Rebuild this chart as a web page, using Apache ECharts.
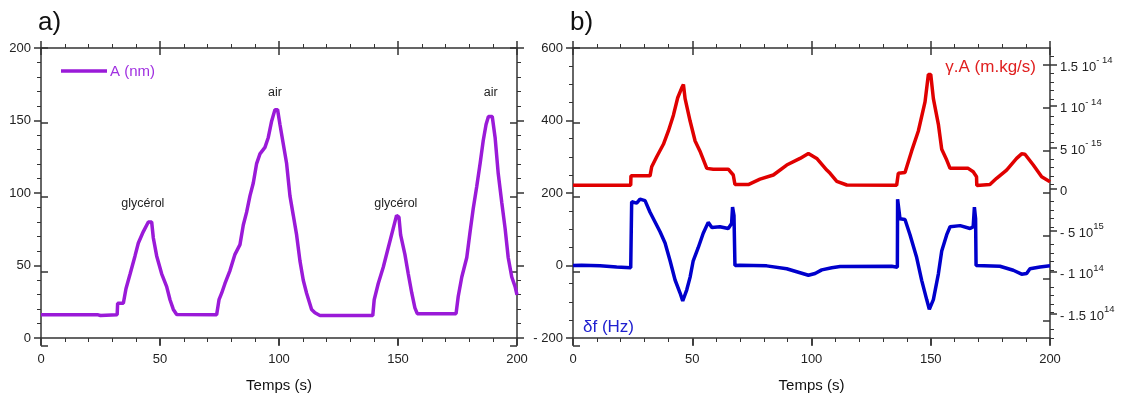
<!DOCTYPE html>
<html><head><meta charset="utf-8">
<script src="https://cdn.jsdelivr.net/npm/echarts@6/dist/echarts.min.js"></script>
<style>html,body{margin:0;padding:0;background:#fff}#c{width:1121px;height:398px}</style>
</head><body><div id="c"></div>
<script>
// ---------- data ----------
// a) amplitude A (nm) vs time (s)
const timeA = [0,24,25,32,32.2,34.6,35.7,37.4,39.5,40.9,43,45.1,46.5,47.2,48.6,50.7,52.8,54.2,55.6,57,73.8,74.8,75.9,77.3,79.4,81.5,83.6,85,86.4,87.8,89.2,90.6,92,94.1,95.5,96.9,98.3,99.4,100.4,101.8,103.2,104.6,106,107.4,108.8,110.2,111.6,113.7,115.1,117.2,139.4,140,141.7,143.8,145.9,148,149.4,150.4,151.1,152.9,154.3,155.8,157.1,158.1,174.4,175.3,176.8,178.9,180.3,181.6,183.1,184.5,185.8,187,188,189.6,190.8,192.1,193.6,195,196.3,197.8,199.2,200];
const amplitude = [16,16,15.5,16,24,24,34,44,56.6,65.5,73.4,80,80,69,56.6,44.3,35.4,26.4,19.7,16.2,16,26.4,30.9,37.6,46.5,57.7,64.4,77.9,86.8,98,106.9,120.3,127,131.5,138.3,149.5,157.5,157.5,147.2,133.8,120.3,98,84.6,71.1,53.2,39.8,30.9,19.7,17.4,15.5,15.5,26.4,37.6,48.8,62.2,75.6,84.6,83.4,71.1,57.7,44.3,30.9,20.8,16.8,16.8,28.6,42.1,55.5,73.4,89.1,104.7,120.3,136,147.2,152.8,152.8,138.3,113.6,93.5,75.6,55.5,42.1,35.4,29.7];
const annoText = ['glycérol','air','glycérol','air'];
const annoTime = [42.8, 98.3, 149.1, 189];
const annoA    = [93, 169, 92.4, 169];

// b) gamma.A (units of 1e-15 m.kg/s) vs time
const timeG = [0,24.2,24.3,32.3,33,35.1,37.9,40,42.1,43.9,45.6,46.3,47,49.1,51.2,53.2,56.1,58.8,65.1,67.2,67.9,73.5,78.4,84,89.6,95.2,98.7,102.2,106.4,107.8,110.6,114.8,135.7,136.4,139.2,142,144.8,147.6,149,150,151.1,153.2,154.6,156.7,158.1,165.7,167.8,169.2,169.3,174.8,177.6,181.8,186,188.1,189.5,193,196.5,200];
const gammaA = [0.47,0.47,1.6,1.6,2.7,3.9,5.4,7.0,8.9,11.0,12.2,12.6,10.9,8.2,5.8,4.6,2.5,2.4,2.4,1.7,0.55,0.55,1.2,1.7,2.9,3.7,4.3,3.7,2.3,1.9,0.94,0.5,0.47,1.9,2.0,4.6,7.0,10.5,13.8,13.8,10.9,7.8,4.8,3.5,2.5,2.5,2.1,1.5,0.43,0.55,1.3,2.3,3.7,4.25,4.2,2.9,1.5,0.9];

// b) delta f (Hz) vs time
const timeD = [0,3.6,11.3,18.3,24.2,24.6,26.7,28.1,30.2,32.3,34.4,36.5,38.6,40.7,42.8,44.9,46,47.7,49.1,50.4,52.5,54.6,56.7,58.2,61.6,65.1,66.5,66.9,67.5,67.9,70,81.2,89.6,95.2,98.7,101.5,104.3,108.5,112,133.6,136,136.1,137.1,139.2,141.3,144.1,146.2,148.3,149.4,151.1,153.2,154.6,156.7,158.1,162.3,166.5,167.8,168.3,168.8,169,179,184.6,188.1,190.2,191.6,195.8,200];
const deltaF = [0,1,-1,-4,-6,176,172,183,179,147,120,93,62,13,-40,-76,-98,-67,-32,13,49,89,119,105,107,102,116,161,138,0,1,-1,-9,-20,-27,-22,-12,-6,-3,-2,-5,183,129,127,85,22,-41,-94,-121,-94,-23,40,85,107,110,102,107,161,129,0,-2,-13,-24,-22,-9,-4,-1];

// right axis ticks (units of 1e-15)
const rightTickValues = [-15,-10,-5,0,5,10,15];
const rightTickMant   = ['- 1.5','- 1','- 5','0','5','1','1.5'];
const rightTickExp    = ['14','14','15','','- 15','- 14','- 14'];
const rightMinorValues = [-17,-16,-14,-13,-12,-11,-9,-8,-7,-6,-4,-3,-2,-1,1,2,3,4,6,7,8,9,11,12,13,14,16];
const RMIN = -17.92, RMAX = 16.99;

// ---------- styling ----------
const FONT = '"Liberation Sans", Arial, sans-serif';
const AXC = '#333';
const PURPLE = '#9a1ad8', RED = '#e00000', BLUE = '#0000cc';
const LW = 3.5;

const tickLS = {color: AXC, width: 1.5};
function base(o) {
  return Object.assign({
    type: 'value',
    splitLine: {show: false}, minorSplitLine: {show: false},
    axisLine: {show: true, onZero: false, lineStyle: {color: AXC, width: 1.5}},
    axisTick: {show: true, inside: false, length: 7, lineStyle: tickLS},
    minorTick: {show: false},
    axisLabel: {show: false}
  }, o);
}
const inner = {axisLine: {show: false, onZero: false}, axisTick: {show: true, inside: true, length: 7, lineStyle: tickLS}};
const minor5 = {show: true, splitNumber: 5, length: 4, lineStyle: {color: AXC, width: 1}};
const minor4 = {show: true, splitNumber: 4, length: 4, lineStyle: {color: AXC, width: 1}};
const lab = {show: true, fontSize: 13, color: '#222', fontFamily: FONT};
const xName = {name: 'Temps (s)', nameLocation: 'middle', nameGap: 40, nameTextStyle: {fontSize: 15, color: '#111', fontFamily: FONT}};
const X = {min: 0, max: 200, interval: 50};

const grids = [
  {left: 41, right: 604, top: 48, bottom: 52},
  {left: 41, right: 604, top: 48, bottom: 52},
  {left: 573, right: 71, top: 48, bottom: 52},
  {left: 573, right: 71, top: 48, bottom: 52},
  {left: 573, right: 71, top: 48, bottom: 52}
];

const xAxes = [
  base(Object.assign({gridIndex: 0, position: 'bottom', minorTick: minor5, axisLabel: Object.assign({margin: 15}, lab)}, X, xName)),
  base(Object.assign({gridIndex: 0, position: 'top', minorTick: minor5}, X)),
  base(Object.assign({gridIndex: 1, position: 'bottom'}, X, inner)),
  base(Object.assign({gridIndex: 1, position: 'top'}, X, inner)),
  base(Object.assign({gridIndex: 2, position: 'bottom', minorTick: minor5, axisLabel: Object.assign({margin: 15}, lab)}, X, xName)),
  base(Object.assign({gridIndex: 2, position: 'top', minorTick: minor5}, X)),
  base(Object.assign({gridIndex: 3, position: 'bottom'}, X, inner)),
  base(Object.assign({gridIndex: 3, position: 'top'}, X, inner)),
  {type: 'value', gridIndex: 4, show: false, min: 0, max: 200}
];

const YA = {min: 0, max: 200, interval: 50};
const YD = {min: -200, max: 600, interval: 200};
const yAxes = [
  base(Object.assign({gridIndex: 0, position: 'left', minorTick: minor5, axisLabel: Object.assign({margin: 10}, lab)}, YA)),
  base(Object.assign({gridIndex: 0, position: 'right', minorTick: minor5}, YA)),
  base(Object.assign({gridIndex: 1, position: 'left'}, YA, inner)),
  base(Object.assign({gridIndex: 1, position: 'right'}, YA, inner)),
  base(Object.assign({gridIndex: 2, position: 'left', minorTick: minor4,
    axisLabel: Object.assign({margin: 10, formatter: v => v < 0 ? '- ' + (-v) : String(v)}, lab)}, YD)),
  base({gridIndex: 2, position: 'right', min: RMIN, max: RMAX,
    axisTick: {show: true, inside: false, length: 7, lineStyle: tickLS, customValues: rightTickValues},
    axisLabel: {show: true, margin: 10, customValues: rightTickValues, fontFamily: FONT, fontSize: 13, color: '#222',
      formatter: function (v) {
        const i = rightTickValues.indexOf(Math.round(v));
        if (i < 0) return '';
        return rightTickExp[i] ? '{m|' + rightTickMant[i] + ' 10}{s|' + rightTickExp[i] + '}' : '{m|' + rightTickMant[i] + '}';
      },
      rich: {
        m: {fontSize: 13, color: '#222', fontFamily: FONT, lineHeight: 18, verticalAlign: 'bottom'},
        s: {fontSize: 9.5, color: '#222', fontFamily: FONT, lineHeight: 18, verticalAlign: 'top'}
      }
    }}),
  base(Object.assign({gridIndex: 3, position: 'left'}, YD, inner)),
  base({gridIndex: 3, position: 'right', min: RMIN, max: RMAX, axisLine: {show: false, onZero: false},
    axisTick: {show: true, inside: true, length: 7, lineStyle: tickLS, customValues: rightTickValues}}),
  base({gridIndex: 4, position: 'right', min: RMIN, max: RMAX, axisLine: {show: false, onZero: false},
    axisTick: {show: true, inside: false, length: 4, lineStyle: {color: AXC, width: 1}, customValues: rightMinorValues}})
];

const zip = (a, b) => a.map((t, i) => [t, b[i]]);

const option = {
  animation: false,
  backgroundColor: '#fff',
  textStyle: {fontFamily: FONT},
  grid: grids,
  xAxis: xAxes,
  yAxis: yAxes,
  series: [
    {type: 'line', name: 'A (nm)', xAxisIndex: 0, yAxisIndex: 0, data: zip(timeA, amplitude),
      showSymbol: false, lineStyle: {color: PURPLE, width: LW}, itemStyle: {color: PURPLE},
      markPoint: {symbol: 'circle', symbolSize: 0, silent: true,
        label: {show: true, position: 'inside', formatter: '{b}', color: '#222', fontSize: 12.5, fontFamily: FONT},
        data: annoText.map((s, i) => ({name: s, coord: [annoTime[i], annoA[i]]}))}},
    {type: 'line', name: 'γ.A (m.kg/s)', xAxisIndex: 4, yAxisIndex: 5, data: zip(timeG, gammaA),
      showSymbol: false, lineStyle: {color: RED, width: LW}},
    {type: 'line', name: 'δf (Hz)', xAxisIndex: 4, yAxisIndex: 4, data: zip(timeD, deltaF),
      showSymbol: false, lineStyle: {color: BLUE, width: LW}}
  ],
  graphic: [
    {type: 'text', x: 38, y: 23, style: {text: 'a)', fontSize: 26, fontFamily: FONT, fill: '#111', verticalAlign: 'middle'}},
    {type: 'text', x: 570, y: 23, style: {text: 'b)', fontSize: 26, fontFamily: FONT, fill: '#111', verticalAlign: 'middle'}},
    {type: 'line', shape: {x1: 61, y1: 71, x2: 107, y2: 71}, style: {stroke: PURPLE, lineWidth: LW}},
    {type: 'text', x: 110, y: 72, style: {text: 'A (nm)', fontSize: 15, fontFamily: FONT, fill: '#a030e0', verticalAlign: 'middle'}},
    {type: 'text', x: 1036, y: 67, style: {text: 'γ.A (m.kg/s)', fontSize: 17, fontFamily: FONT, fill: '#e02020', align: 'right', verticalAlign: 'middle'}},
    {type: 'text', x: 583, y: 327, style: {text: 'δf (Hz)', fontSize: 17, fontFamily: FONT, fill: '#2020d0', verticalAlign: 'middle'}}
  ]
};

const chart = echarts.init(document.getElementById('c'), null, {renderer: 'canvas'});
chart.setOption(option);
</script>
</body></html>
